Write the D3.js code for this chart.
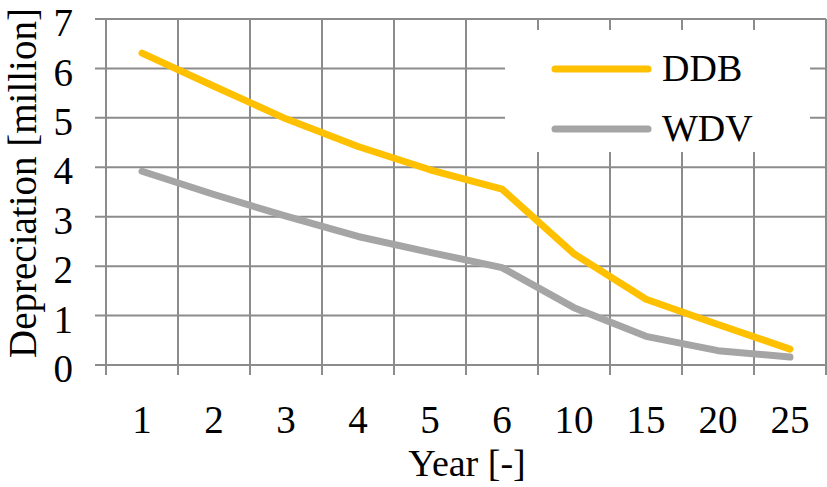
<!DOCTYPE html>
<html>
<head>
<meta charset="utf-8">
<script src="https://cdn.jsdelivr.net/npm/d3@7"></script>
<style>
  body { margin: 0; background: #fff; }
  text { font-family: "Liberation Serif", "Times New Roman", serif; fill: #000; }
</style>
</head>
<body>
<div id="chartHolder"></div>
<script>
const years = ["1", "2", "3", "4", "5", "6", "10", "15", "20", "25"];
const ddb = [6.31, 5.64, 4.98, 4.42, 3.95, 3.56, 2.25, 1.33, 0.82, 0.32];
const wdv = [3.92, 3.45, 3.01, 2.6, 2.28, 1.97, 1.16, 0.58, 0.29, 0.16];
const yTicks = [0, 1, 2, 3, 4, 5, 6, 7];
const seriesNames = ["DDB", "WDV"];

const width = 827;
const height = 487;
const gridColor = "#8c8c8c";
const colors = ["#FFC000", "#A5A5A5"];

const svg = d3.select("#chartHolder")
  .append("svg")
  .attr("width", width)
  .attr("height", height);

const xScale = d3.scaleBand()
  .domain(years)
  .range([106, 826]);

const yScale = d3.scaleLinear()
  .domain([0, 7])
  .range([365, 19]);

// horizontal grid + left ticks
svg.append("g")
  .selectAll("line")
  .data(yTicks)
  .enter()
  .append("line")
  .attr("x1", 95)
  .attr("x2", 826)
  .attr("y1", d => yScale(d))
  .attr("y2", d => yScale(d))
  .style("stroke", gridColor)
  .style("stroke-width", 2);

// vertical grid at category boundaries
const bounds = years.map(d => xScale(d)).concat([xScale.range()[1]]);
svg.append("g")
  .selectAll("line")
  .data(bounds)
  .enter()
  .append("line")
  .attr("x1", d => d)
  .attr("x2", d => d)
  .attr("y1", yScale(7))
  .attr("y2", yScale(0) + 10)
  .style("stroke", gridColor)
  .style("stroke-width", 2);

// y tick labels
svg.append("g")
  .selectAll("text")
  .data(yTicks)
  .enter()
  .append("text")
  .attr("x", 73)
  .attr("y", d => yScale(d))
  .attr("dy", "0.44em")
  .attr("text-anchor", "end")
  .style("font-size", "39px")
  .text(d => d);

// x tick labels
svg.append("g")
  .selectAll("text")
  .data(years)
  .enter()
  .append("text")
  .attr("x", d => xScale(d) + xScale.bandwidth() / 2)
  .attr("y", 433)
  .attr("text-anchor", "middle")
  .style("font-size", "39px")
  .text(d => d);

// axis titles
svg.append("text")
  .attr("x", 467)
  .attr("y", 476)
  .attr("text-anchor", "middle")
  .style("font-size", "38px")
  .text("Year [-]");

svg.append("text")
  .attr("transform", "rotate(-90)")
  .attr("x", -183)
  .attr("y", 36)
  .attr("text-anchor", "middle")
  .style("font-size", "39px")
  .text("Depreciation [million]");

// lines
const line = d3.line()
  .x((d, i) => xScale(years[i]) + xScale.bandwidth() / 2)
  .y(d => yScale(d));

[ddb, wdv].forEach((s, k) => {
  svg.append("path")
    .datum(s)
    .attr("d", line)
    .style("fill", "none")
    .style("stroke", colors[k])
    .style("stroke-width", 7)
    .style("stroke-linecap", "round")
    .style("stroke-linejoin", "round");
});

// legend
svg.append("rect")
  .attr("x", 505)
  .attr("y", 30)
  .attr("width", 305)
  .attr("height", 122)
  .style("fill", "#fff");

seriesNames.forEach((name, k) => {
  const ly = 69 + k * 60;
  svg.append("line")
    .attr("x1", 555)
    .attr("x2", 648)
    .attr("y1", ly)
    .attr("y2", ly)
    .style("stroke", colors[k])
    .style("stroke-width", 7)
    .style("stroke-linecap", "round");
  svg.append("text")
    .attr("x", 662)
    .attr("y", ly + 12)
    .style("font-size", "38px")
    .text(name);
});
</script>
</body>
</html>
